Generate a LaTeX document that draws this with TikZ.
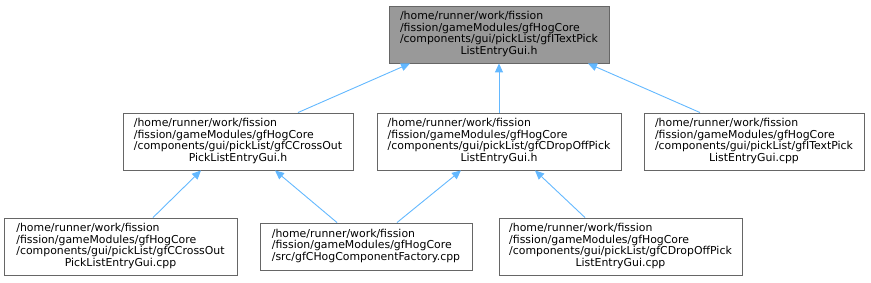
\documentclass[tikz,border=0pt]{standalone}
\usepackage{fontspec}
\setmainfont{DejaVu Sans}
\usetikzlibrary{arrows.meta}
\definecolor{edgeblue}{HTML}{63B8FF}
\definecolor{boxborder}{HTML}{666666}
\definecolor{topfill}{HTML}{999999}
\tikzset{
  filebox/.style={draw=boxborder, line width=0.9pt, fill=white, inner sep=0pt,
    minimum height=57pt, font=\fontsize{10.9}{11.2}\selectfont},
  topbox/.style={filebox, fill=topfill},
  dep/.style={draw=edgeblue, line width=0.9pt, -{Triangle[length=9pt,width=8pt]}},
}
\newcommand{\fourlines}[4]{\begin{tabular}{@{}l@{}}#1\\#2\\#3\\\multicolumn{1}{@{}c@{}}{#4}\end{tabular}}
\newcommand{\threelines}[3]{\begin{tabular}{@{}l@{}}#1\\#2\\#3\end{tabular}}
\begin{document}
\begin{tikzpicture}[x=1pt,y=-1pt]
\useasboundingbox (0,0) rectangle (871,283);
\node[topbox, minimum width=220pt] (top) at (499,34.5)
  {\fourlines{/home/runner/work/fission}{/fission/gameModules/gfHogCore}{/components/gui/pickList/gfITextPick}{ListEntryGui.h}};
\node[filebox, minimum width=230pt] (l2) at (238,141.5)
  {\fourlines{/home/runner/work/fission}{/fission/gameModules/gfHogCore}{/components/gui/pickList/gfCCrossOut}{PickListEntryGui.h}};
\node[filebox, minimum width=244pt] (m2) at (499,141.5)
  {\fourlines{/home/runner/work/fission}{/fission/gameModules/gfHogCore}{/components/gui/pickList/gfCDropOffPick}{ListEntryGui.h}};
\node[filebox, minimum width=220pt] (r2) at (754,141.5)
  {\fourlines{/home/runner/work/fission}{/fission/gameModules/gfHogCore}{/components/gui/pickList/gfITextPick}{ListEntryGui.cpp}};
\node[filebox, minimum width=233pt] (bl) at (120.5,246.5)
  {\fourlines{/home/runner/work/fission}{/fission/gameModules/gfHogCore}{/components/gui/pickList/gfCCrossOut}{PickListEntryGui.cpp}};
\node[filebox, minimum width=212pt, minimum height=47pt] (bm) at (366,246.5)
  {\threelines{/home/runner/work/fission}{/fission/gameModules/gfHogCore}{/src/gfCHogComponentFactory.cpp}};
\node[filebox, minimum width=243pt] (br) at (620.5,246.5)
  {\fourlines{/home/runner/work/fission}{/fission/gameModules/gfHogCore}{/components/gui/pickList/gfCDropOffPick}{ListEntryGui.cpp}};
\draw[dep] ([xshift=60pt]l2.north) -- ([xshift=-89pt]top.south);
\draw[dep] (m2.north) -- (top.south);
\draw[dep] ([xshift=-54pt]r2.north) -- ([xshift=89pt]top.south);
\draw[dep] ([xshift=32.5pt]bl.north) -- ([xshift=-37pt]l2.south);
\draw[dep] ([xshift=-29pt]bm.north) -- ([xshift=37pt]l2.south);
\draw[dep] ([xshift=31pt]bm.north) -- ([xshift=-38pt]m2.south);
\draw[dep] ([xshift=-35.5pt]br.north) -- ([xshift=36pt]m2.south);
\end{tikzpicture}
\end{document}
